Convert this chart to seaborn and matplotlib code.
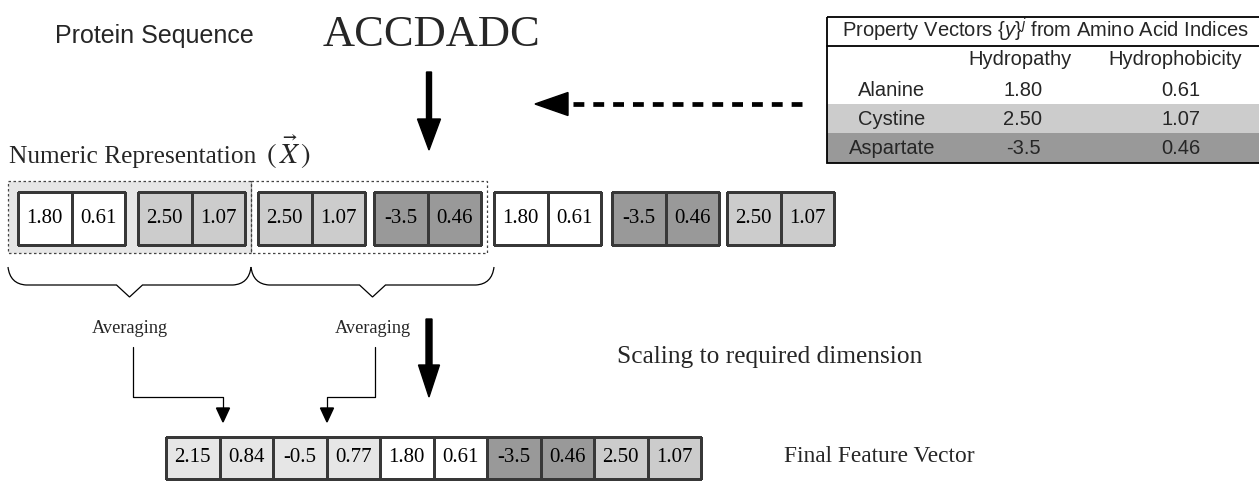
import numpy as np
import matplotlib
matplotlib.use('Agg')
import matplotlib.pyplot as plt
import seaborn as sns
from matplotlib.colors import ListedColormap
from matplotlib.patches import Rectangle, PathPatch
from matplotlib.path import Path
from matplotlib import font_manager

# Dados do diagrama
sequence = list("ACCDADC")
amino_codes = ['A', 'C', 'D']
amino_names = ['Alanine', 'Cystine', 'Aspartate']
hydropathy = ['1.80', '2.50', '-3.5']
hydrophobicity = ['0.61', '1.07', '0.46']
property_names = ['Hydropathy', 'Hydrophobicity']
final_values = ['2.15', '0.84', '-0.5', '0.77', '1.80', '0.61', '-3.5', '0.46', '2.50', '1.07']
final_shades = ['avg', 'avg', 'avg', 'avg', 'A', 'A', 'D', 'D', 'C', 'C']

shade_keys = ['A', 'C', 'D', 'avg']
shade_colors = ['#ffffff', '#cccccc', '#999999', '#e6e6e6']

sns.set_style('white')
SERIF = 'Liberation Serif'
SANS = 'Liberation Sans'
names = {f.name for f in font_manager.fontManager.ttflist}
NARROW = 'Liberation Sans Narrow' if 'Liberation Sans Narrow' in names else SANS
TABLE_SIZE = 17 if NARROW != SANS else 14.5
plt.rcParams['font.family'] = [SERIF, 'DejaVu Serif']
plt.rcParams['mathtext.rm'] = NARROW
plt.rcParams['mathtext.it'] = NARROW + ':italic'

W, H = 1259, 487
fig = plt.figure(figsize=(W / 100, H / 100), dpi=100)
ax = fig.add_axes([0, 0, 1, 1])
ax.set_xlim(0, W)
ax.set_ylim(H, 0)
ax.axis('off')

cmap = ListedColormap(shade_colors)


def px_axes(x, y, w, h):
    a = fig.add_axes([x / W, 1 - (y + h) / H, w / W, h / H])
    a.patch.set_visible(False)
    return a


def cell_row(a, keys, labels):
    codes = np.array([[shade_keys.index(k) for k in keys]])
    annot = np.array([labels])
    sns.heatmap(codes, cmap=cmap, vmin=-0.5, vmax=3.5, annot=annot, fmt='',
                cbar=False, linewidths=0.8, linecolor='#383838',
                xticklabels=False, yticklabels=False,
                annot_kws=dict(fontsize=15, family=SERIF, color='black'), ax=a)
    a.collections[0].set_clip_on(False)


# Textos de cima
ax.text(55, 43, 'Protein Sequence', family=SANS, fontsize=18, va='baseline')
ax.text(323, 46, ''.join(sequence), family=SERIF, fontsize=32, va='baseline')
ax.text(9, 163, 'Numeric Representation', family=SERIF, fontsize=18.3, va='baseline')
ax.text(266, 164, r'$(\,\vec{X}\,)$', fontsize=21, va='baseline', math_fontfamily='stix')

# Setas principais
ax.arrow(429, 72, 0, 78, width=5, head_width=23, head_length=31,
         length_includes_head=True, color='black')
ax.arrow(429, 319, 0, 78, width=6, head_width=21, head_length=32,
         length_includes_head=True, color='black')
ax.plot([802, 566], [104, 104], color='black', lw=3.4, dashes=(2.3, 1.9),
        solid_capstyle='butt')
ax.arrow(568, 104, -33, 0, width=0.01, head_width=23, head_length=33,
         length_includes_head=True, color='black')

# Tabela de propriedades
tx0, tx1 = 827, 1262
ax.add_patch(Rectangle((tx0, 104), tx1 - tx0, 29, fc=shade_colors[1], ec='none'))
ax.add_patch(Rectangle((tx0, 133), tx1 - tx0, 30, fc=shade_colors[2], ec='none'))
ax.add_patch(Rectangle((tx0, 17), tx1 - tx0, 146, fill=False, ec='black', lw=1.3))
ax.plot([tx0, tx1], [46, 46], color='black', lw=1.3)
ax.text(1045, 37, r'Property Vectors $\{y\}^j$ from Amino Acid Indices',
        ha='center', va='baseline', family=NARROW, fontsize=TABLE_SIZE,
        math_fontfamily='custom')
for x, name in zip([1020, 1175], property_names):
    ax.text(x, 65, name, ha='center', va='baseline', family=NARROW, fontsize=TABLE_SIZE)
for y, name, hp, hb in zip([96, 125, 154], amino_names, hydropathy, hydrophobicity):
    ax.text(892, y, name, ha='center', va='baseline', family=NARROW, fontsize=TABLE_SIZE)
    ax.text(1023, y, hp, ha='center', va='baseline', family=NARROW, fontsize=TABLE_SIZE)
    ax.text(1181, y, hb, ha='center', va='baseline', family=NARROW, fontsize=TABLE_SIZE)

# Janelas pontilhadas
ax.add_patch(Rectangle((8, 181), 243, 72, fc='#e6e6e6', ec='#444444', lw=0.9,
                       ls=(0, (2, 2))))
ax.add_patch(Rectangle((251, 181), 236, 72, fill=False, ec='#444444', lw=0.9,
                       ls=(0, (2, 2))))

# Linha de cima: representacao numerica
group_x = [18, 138, 258, 374, 494, 612, 727]
for gx, aa in zip(group_x, sequence):
    k = amino_codes.index(aa)
    cell_row(px_axes(gx, 192, 107, 53), [aa, aa], [hydropathy[k], hydrophobicity[k]])


# Chaves
def brace(x0, x1):
    xc = (x0 + x1) / 2
    verts = [(x0, 267), (x0 + 2, 284), (x0 + 18, 285), (xc - 13, 285), (xc, 297),
             (xc + 13, 285), (x1 - 18, 285), (x1 - 2, 284), (x1, 267)]
    codes = [Path.MOVETO, Path.CURVE3, Path.CURVE3, Path.LINETO, Path.LINETO,
             Path.LINETO, Path.LINETO, Path.CURVE3, Path.CURVE3]
    ax.add_patch(PathPatch(Path(verts, codes), fill=False, ec='black', lw=0.9))


brace(8, 251)
brace(251, 494)

# Media
for cx in [130, 373]:
    ax.text(cx, 333, 'Averaging', ha='center', va='baseline', family=SERIF, fontsize=13.2)
ax.plot([133, 133, 223, 223], [347, 397, 397, 409], color='black', lw=0.9)
ax.arrow(223, 408, 0, 14, width=0.01, head_width=13, head_length=14,
         length_includes_head=True, color='black')
ax.plot([375, 375, 327, 327], [347, 397, 397, 409], color='black', lw=0.9)
ax.arrow(327, 408, 0, 14, width=0.01, head_width=13, head_length=14,
         length_includes_head=True, color='black')

ax.text(617, 363, 'Scaling to required dimension', family=SERIF, fontsize=18.3,
        va='baseline')

# Vetor final
cell_row(px_axes(166, 437, 535, 42), final_shades, final_values)
ax.text(784, 462, 'Final Feature Vector', family=SERIF, fontsize=16.8, va='baseline')

fig.savefig('out.png', dpi=100)
